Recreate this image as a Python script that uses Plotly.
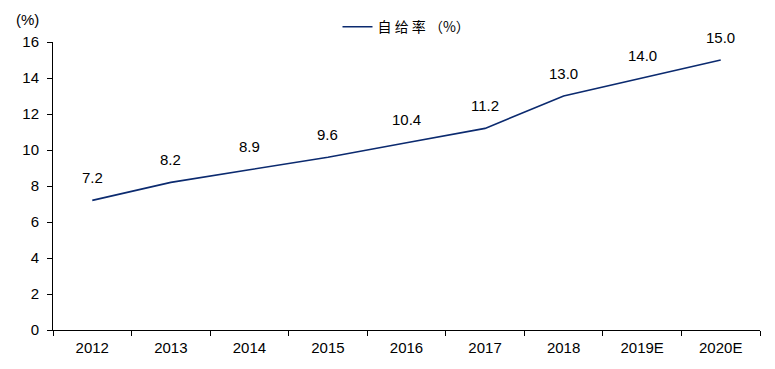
import plotly.graph_objects as go

years = ["2012", "2013", "2014", "2015", "2016", "2017", "2018", "2019E", "2020E"]
rate = [7.2, 8.2, 8.9, 9.6, 10.4, 11.2, 13.0, 14.0, 15.0]
y_ticks = [0, 2, 4, 6, 8, 10, 12, 14, 16]

LINE_COLOR = "#0b2a6f"
FONT = "Liberation Sans, Arial, sans-serif"

fig = go.Figure()
fig.add_trace(go.Scatter(
    x=years, y=rate, mode="lines", name="自 给 率 （%）",
    line=dict(color=LINE_COLOR, width=1.6),
))

for i, v in enumerate(rate):
    fig.add_annotation(x=i, y=v, text=f"{v:.1f}", showarrow=False,
                       yshift=23, font=dict(family=FONT, size=15, color="#000000"))

fig.add_annotation(x=0, y=1, xref="paper", yref="paper", xanchor="right", yanchor="bottom",
                   xshift=-12, yshift=12, text="(%)", showarrow=False,
                   font=dict(family=FONT, size=15, color="#000000"))

# page has an 8px body margin, so the figure is sized/margined to compensate
fig.update_layout(
    width=767, height=361,
    margin=dict(l=45, r=15, t=34, b=39, autoexpand=False),
    paper_bgcolor="white", plot_bgcolor="white",
    font=dict(family=FONT, size=15, color="#000000"),
    showlegend=True,
    legend=dict(x=0.5, xanchor="center", xref="paper", y=0.947, yanchor="middle",
                yref="container", orientation="h",
                font=dict(family="Noto Sans CJK SC", size=14, color="#000000"),
                bgcolor="rgba(0,0,0,0)"),
    xaxis=dict(type="category", showline=True, linecolor="#000000", linewidth=1,
               ticks="outside", tickson="boundaries", ticklen=5, tickcolor="#000000",
               ticklabelstandoff=4,
               showgrid=False, zeroline=False, range=[-0.5, 8.5], automargin=False),
    yaxis=dict(range=[0, 16], tickvals=y_ticks, showline=True, linecolor="#000000",
               linewidth=1, ticks="outside", ticklen=5, tickcolor="#000000",
               ticklabelstandoff=5,
               showgrid=False, zeroline=False, automargin=False),
)

fig.write_html("out.html")
